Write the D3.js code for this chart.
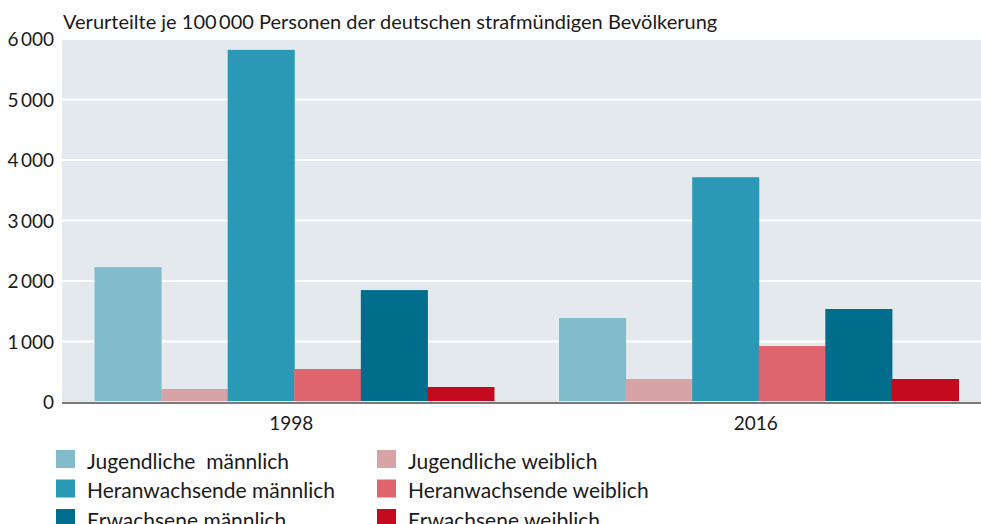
<!DOCTYPE html>
<html><head><meta charset="utf-8">
<script src="https://cdn.jsdelivr.net/npm/d3@7"></script>
<style>
html,body{margin:0;padding:0;background:#fff;}
svg text{font-family:"Lato","Open Sans",sans-serif;fill:#1a1a1a;}
</style></head>
<body><svg id="c" width="981" height="524"></svg>
<script>
const years = ["1998", "2016"];
const seriesNames = ["Jugendliche  männlich", "Jugendliche weiblich", "Heranwachsende männlich", "Heranwachsende weiblich", "Erwachsene männlich", "Erwachsene weiblich"];
const values1998 = [2230, 215, 5820, 545, 1850, 248];
const values2016 = [1388, 380, 3715, 925, 1537, 380];
const yTicks = [0, 1000, 2000, 3000, 4000, 5000, 6000];
const colors = ["#82bbc9", "#d8a3a6", "#2b99b5", "#de656d", "#006d8c", "#c40a1e"];
const title = "Verurteilte je 100\u2009000 Personen der deutschen strafmündigen Bevölkerung";
const legendOrder = [[0,1],[2,3],[4,5]];

const valuesByYear = [values1998, values2016];
const svg = d3.select("#c");
const pLeft = 62, pRight = 981, pTop = 39, pBottom = 402;

const y = d3.scaleLinear().domain([0, 6000]).range([pBottom, pTop]);
const x0 = d3.scaleBand().domain(years).range([62, 991]).paddingInner(0.14).paddingOuter(0.07);
const x1 = d3.scaleBand().domain(d3.range(seriesNames.length)).range([0, x0.bandwidth()]);
const fmt = v => { const s = String(v); return s.length > 3 ? s.slice(0, -3) + "\u2009" + s.slice(-3) : s; };

svg.append("rect").attr("x", pLeft).attr("y", pTop).attr("width", pRight - pLeft).attr("height", pBottom - pTop).attr("fill", "#e4e9ed");

svg.append("g").selectAll("line").data(yTicks.filter(t => t > 0)).join("line")
  .attr("x1", pLeft).attr("x2", pRight).attr("y1", d => y(d)).attr("y2", d => y(d))
  .attr("stroke", "#fff").attr("stroke-width", 2);

svg.append("g").selectAll("text").data(yTicks).join("text")
  .attr("x", 54).attr("y", d => y(d) + 7).attr("text-anchor", "end")
  .attr("font-size", 19).text(fmt);

const groups = svg.append("g").selectAll("g").data(years).join("g")
  .attr("transform", d => `translate(${x0(d)},0)`);
groups.selectAll("rect").data((d, i) => valuesByYear[i].map((v, j) => ({v, j}))).join("rect")
  .attr("x", d => x1(d.j)).attr("width", x1.bandwidth() + 0.5)
  .attr("y", d => y(d.v)).attr("height", d => y(0) - y(d.v) - 1)
  .attr("fill", d => colors[d.j]);

svg.append("line").attr("x1", pLeft).attr("x2", pRight).attr("y1", pBottom + 1).attr("y2", pBottom + 1)
  .attr("stroke", "#7a7a7a").attr("stroke-width", 2);

svg.append("g").selectAll("text").data(years).join("text")
  .attr("x", d => x0(d) + x0.bandwidth() / 2 - 3).attr("y", 430).attr("text-anchor", "middle")
  .attr("font-size", 19).text(d => d);

svg.append("text").attr("x", 63).attr("y", 29).attr("font-size", 20).text(title);

const lg = svg.append("g");
legendOrder.forEach((row, r) => {
  row.forEach((si, c) => {
    const lx = c === 0 ? 56 : 377;
    const ly = 450 + r * 29.5;
    lg.append("rect").attr("x", lx).attr("y", ly).attr("width", 19).attr("height", 18).attr("fill", colors[si]);
    lg.append("text").attr("x", lx + 31).attr("y", ly + 18.5).attr("font-size", 21)
      .attr("xml:space", "preserve").style("white-space", "pre").text(seriesNames[si]);
  });
});
</script></body></html>
